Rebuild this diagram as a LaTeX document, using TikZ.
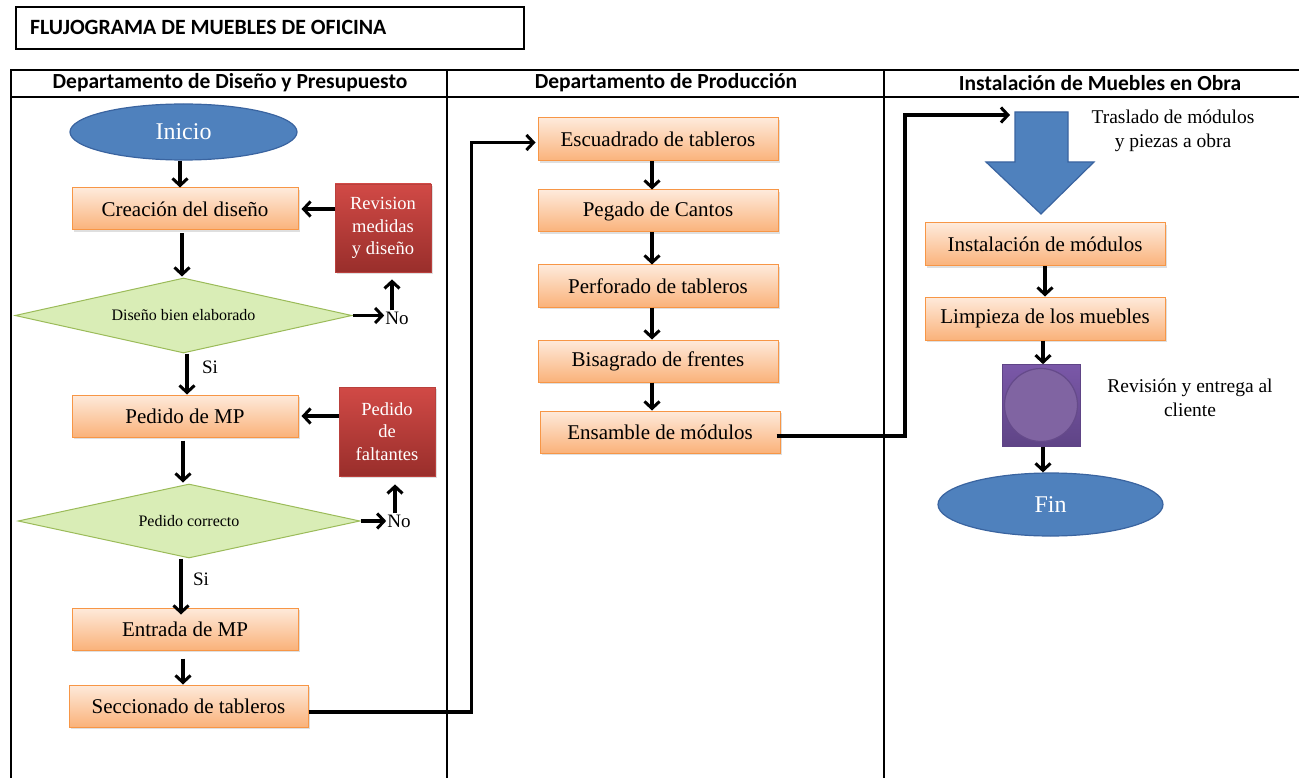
\documentclass[tikz,border=0pt]{standalone}
\usepackage{fontspec}
\setmainfont{Liberation Serif}
\newfontfamily\calfont{Carlito}
\usetikzlibrary{shapes.geometric,arrows.meta,shadows,calc}
\definecolor{orbord}{HTML}{F79646}
\definecolor{ortop}{HTML}{FEEADB}
\definecolor{orbot}{HTML}{FAB27A}
\definecolor{redtop}{HTML}{D14A46}
\definecolor{redbot}{HTML}{992E2B}
\definecolor{redbord}{HTML}{B9403C}
\definecolor{grfill}{HTML}{D9EDB6}
\definecolor{grbord}{HTML}{9BBB59}
\definecolor{bluefill}{HTML}{4F81BD}
\definecolor{bluebord}{HTML}{3A64A0}
\definecolor{purptop}{HTML}{7A58A8}
\definecolor{purpbot}{HTML}{5F4486}
\definecolor{purpcirc}{HTML}{8064A2}
\definecolor{purpcbord}{HTML}{654A8A}
\tikzset{
  procbox/.style={draw=orbord, line width=1pt, top color=ortop, bottom color=orbot,
    minimum width=226, minimum height=42, inner sep=0pt,
    font=\fontsize{21}{24}\selectfont,
    drop shadow={opacity=0.25, shadow xshift=2pt, shadow yshift=-2pt}},
  redbox/.style={draw=redbord, line width=0.8pt, top color=redtop, bottom color=redbot,
    minimum width=96, minimum height=88, inner sep=0pt, text=white, align=center,
    font=\fontsize{18.5}{22.5}\selectfont,
    drop shadow={opacity=0.25, shadow xshift=2pt, shadow yshift=-2pt}},
  decis/.style={diamond, draw=grbord, line width=1pt, fill=grfill, inner sep=0pt,
    font=\fontsize{16}{18}\selectfont},
  term/.style={ellipse, draw=bluebord, line width=1.2pt, fill=bluefill, text=white,
    inner sep=0pt, font=\fontsize{24}{26}\selectfont},
  lbl/.style={font=\fontsize{19}{20}\selectfont, inner sep=1pt},
  note/.style={font=\fontsize{19.5}{24}\selectfont, align=center, inner sep=0pt},
  hdr/.style={font=\calfont\bfseries\fontsize{21.5}{24}\selectfont, inner sep=0pt},
  arr/.style={line width=3.2pt, -{Straight Barb[length=7pt,width=15pt,line width=3pt]}},
  tline/.style={line width=1.2pt}
}
\begin{document}
\begin{tikzpicture}[x=1pt,y=-1pt]
\useasboundingbox (0,0) rectangle (1299,778);
% title
\node[draw, line width=1.3pt, minimum width=508, minimum height=42, inner sep=0pt] (titlebox) at (270,28) {};
\node[font=\calfont\bfseries\fontsize{21.8}{24}\selectfont, anchor=west, inner sep=0pt] (title) at (30,27) {FLUJOGRAMA DE MUEBLES DE OFICINA};
% table
\draw[tline] (11,778) -- (11,70) -- (1299,70);
\draw[tline] (11,97) -- (1299,97);
\draw[tline] (447,70) -- (447,778);
\draw[tline] (884,70) -- (884,778);
\node[hdr] (h1) at (230,83) {Departamento de Diseño y Presupuesto};
\node[hdr] (h2) at (666,83) {Departamento de Producción};
\node[hdr] (h3) at (1100,83) {Instalación de Muebles en Obra};

% left column
\node[term, minimum width=227, minimum height=56] (ini) at (183.5,132) {Inicio};
\node[procbox] (crea) at (185,209) {Creación del diseño};
\node[redbox] (rev) at (383,228) {Revision\\medidas\\y diseño};
\node[decis, shape aspect=4.5, minimum width=337, minimum height=75] (d1) at (183.5,315.5) {Diseño bien elaborado};
\node[lbl] (no1) at (397,318) {No};
\node[lbl] (si1) at (210,367) {Si};
\node[procbox] (ped) at (185,416) {Pedido de MP};
\node[redbox, minimum height=89] (falt) at (387,431.5) {Pedido\\de\\faltantes};
\node[decis, shape aspect=4.6, minimum width=342, minimum height=74] (d2) at (189,521) {Pedido correcto};
\node[lbl] (no2) at (399,521) {No};
\node[lbl] (si2) at (201,579) {Si};
\node[procbox] (entr) at (185,629) {Entrada de MP};
\node[procbox, minimum width=239] (secc) at (188.5,706) {Seccionado de tableros};

\draw[arr] (ini.south -| 180,0) -- (crea.north -| 180,0);
\draw[arr] (rev.west |- crea.east) -- ([xshift=3pt]crea.east);
\draw[arr] ([yshift=-3pt]crea.south -| 182,0) -- ([yshift=1pt]d1.north -| 182,0);
\draw[arr] (d1.east) -- (d1.east -| no1.west);
\draw[arr] (no1.north -| 392,0) -- ([yshift=-7pt]rev.south -| 392,0);
\draw[arr] (d1.south -| 187,0) -- (ped.north -| 187,0);
\draw[arr] (falt.west |- ped.east) -- ([xshift=3pt]ped.east);
\draw[arr] ([yshift=-3pt]ped.south -| 183,0) -- ([yshift=1pt]d2.north -| 183,0);
\draw[arr] (d2.east) -- (d2.east -| no2.west);
\draw[arr] (no2.north -| 395,0) -- ([yshift=-8pt]falt.south -| 395,0);
\draw[arr] (d2.south -| 181,0) -- ([yshift=-7pt]entr.north -| 181,0);
\draw[arr] ([yshift=-8pt]entr.south -| 183,0) -- (secc.north -| 183,0);

% middle column
\node[procbox, minimum width=240, minimum height=43] (escu) at (658,139.5) {Escuadrado de tableros};
\node[procbox, minimum width=240] (peg) at (658,211) {Pegado de Cantos};
\node[procbox, minimum width=240] (perf) at (658,286) {Perforado de tableros};
\node[procbox, minimum width=240] (bisa) at (658,361) {Bisagrado de frentes};
\node[procbox, minimum width=240] (ens) at (660,432) {Ensamble de módulos};
\draw[arr] (escu.south -| 652,0) -- (peg.north -| 652,0);
\draw[arr] (peg.south -| 652,0) -- (perf.north -| 652,0);
\draw[arr] (perf.south -| 652,0) -- (bisa.north -| 652,0);
\draw[arr] (bisa.south -| 652,0) -- (ens.north -| 652,0);
\draw[arr] ([yshift=-6pt]secc.east) -- ++(163,0) |- ([xshift=-2pt,yshift=-3pt]escu.west);

% right column
\coordinate (tras) at (1010,115);
\draw[arr] ([xshift=-4pt,yshift=-4pt]ens.east) -| (905,115) -- (tras);
\fill[bluefill, draw=bluebord, line width=1.2pt] (1015,112) -- (1068,112) -- (1068,162) -- (1094,162) -- (1041,214) -- (986,162) -- (1015,162) -- cycle;
\node[note] (trnote) at (1173,131) {Traslado de módulos\\y piezas a obra};
\node[procbox, minimum width=240, minimum height=43] (inst) at (1045,244.5) {Instalación de módulos};
\node[procbox, minimum width=240, minimum height=43] (limp) at (1045,318.5) {Limpieza de los muebles};
\node[draw=purpbot, line width=0.6pt, top color=purptop, bottom color=purpbot, minimum width=78, minimum height=82, inner sep=0pt] (insp) at (1041,405.5) {};
\node[circle, draw=purpcbord, line width=1.2pt, fill=purpcirc, minimum size=73, inner sep=0pt] (inspc) at (1041,405) {};
\node[note] (revnote) at (1190,398) {Revisión y entrega al\\cliente};
\node[term, minimum width=225, minimum height=63] (fin) at (1050.5,504.5) {Fin};
\draw[arr] (inst.south) -- (limp.north);
\draw[arr] (limp.south -| 1043,0) -- (insp.north -| 1043,0);
\draw[arr] (insp.south -| 1043,0) -- (fin.north -| 1043,0);
\end{tikzpicture}
\end{document}
